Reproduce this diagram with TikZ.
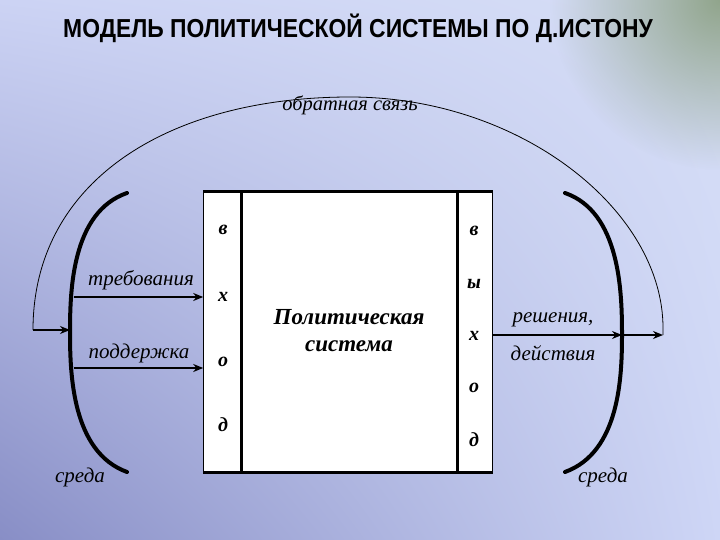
\documentclass[tikz,border=0pt]{standalone}
\usepackage{fontspec}
\setmainfont{Liberation Serif}
\newfontfamily\titlefont{Liberation Sans}
\usetikzlibrary{arrows.meta,positioning,fadings,shadings}
\definecolor{bgUL}{RGB}{204,211,244}
\definecolor{bgUR}{RGB}{214,222,246}
\definecolor{bgLL}{RGB}{136,142,198}
\definecolor{bgLR}{RGB}{206,214,246}
\definecolor{bgGreen}{RGB}{145,165,140}
\tikzfading[name=greenfade,inner color=transparent!0,outer color=transparent!100]
\begin{document}
\begin{tikzpicture}[x=1pt,y=-1pt,
    lbl/.style={font=\itshape\fontsize{21}{23}\selectfont},
    letter/.style={font=\bfseries\itshape\fontsize{20}{20}\selectfont},
    column/.style={draw,fill=white,line width=1.2pt,minimum height=280pt,inner sep=0pt},
    arr/.style={line width=2.4pt,-{Stealth[length=10pt,width=8pt]}},
    wall/.style={line width=4pt,line cap=round}]
    \useasboundingbox (0,0) rectangle (720,540);
    % фон
    \shade[upper left=bgUL,upper right=bgUR,lower left=bgLL,lower right=bgLR] (0,0) rectangle (720,540);
    \begin{scope}
        \clip (0,0) rectangle (720,540);
        \fill[bgGreen,path fading=greenfade] (720,0) circle (170);
    \end{scope}
    \node[font=\titlefont\bfseries\fontsize{26}{28}\selectfont,xscale=0.88] (title) at (358,28) {МОДЕЛЬ ПОЛИТИЧЕСКОЙ СИСТЕМЫ ПО Д.ИСТОНУ};
    % система
    \node[column,minimum width=215pt] (core) at (349.5,332) {};
    \node[column,minimum width=37pt,left=0pt of core] (inp) {};
    \node[column,minimum width=34pt,right=0pt of core] (out) {};
    \draw[line width=3pt] (inp.north west) -- (out.north east);
    \draw[line width=3pt] (inp.south west) -- (out.south east);
    \node[font=\bfseries\itshape\fontsize{23}{27}\selectfont,align=center] (name) at (349,331) {Политическая\\система};
    \node[letter] (i1) at (223,230) {в};
    \node[letter] (i2) at (223,297) {х};
    \node[letter] (i3) at (223,362) {о};
    \node[letter] (i4) at (223,425) {д};
    \node[letter] (o1) at (474,231) {в};
    \node[letter] (o2) at (474,284) {ы};
    \node[letter] (o3) at (474,336) {х};
    \node[letter] (o4) at (474,388) {о};
    \node[letter] (o5) at (474,440) {д};
    % среда
    \coordinate (envLt) at (127,193); \coordinate (envLm) at (70,332); \coordinate (envLb) at (127,472);
    \coordinate (envRt) at (565,193); \coordinate (envRm) at (622,334); \coordinate (envRb) at (565,472);
    \draw[wall] (envLt) .. controls (72,212) and (70,290) .. (envLm) .. controls (70,374) and (72,452) .. (envLb);
    \draw[wall] (envRt) .. controls (620,212) and (622,292) .. (envRm) .. controls (622,376) and (620,452) .. (envRb);
    \node[lbl] (envL) at (80,477) {среда};
    \node[lbl] (envR) at (603,477) {среда};
    % входы и выходы
    \coordinate (dem) at (74,297);
    \coordinate (sup) at (74,368);
    \draw[arr] (dem) -- (dem -| inp.west);
    \draw[arr] (sup) -- (sup -| inp.west);
    \node[lbl] (demL) at (141,280) {требования};
    \node[lbl] (supL) at (139,353) {поддержка};
    \coordinate (res) at (out.east |- 0,335);
    \coordinate (resE) at (663,335);
    \draw[arr] (res) -- (envRm |- res);
    \draw[arr] (envRm |- res) -- (resE);
    \node[lbl] (resL) at (553,320) {решения,};
    \node[lbl] (actL) at (553,353) {действия};
    % обратная связь
    \coordinate (fbL) at (33,330);
    \coordinate (fbT) at (350,97);
    \draw[line width=0.8pt] (resE) -- (663,328) .. controls (663,210) and (520,97) .. (fbT) .. controls (170,97) and (33,180) .. (fbL);
    \draw[arr] (fbL) -- (envLm |- fbL);
    \node[font=\itshape\fontsize{20.5}{22}\selectfont] (fbLbl) at (350,105) {обратная связь};
\end{tikzpicture}
\end{document}
